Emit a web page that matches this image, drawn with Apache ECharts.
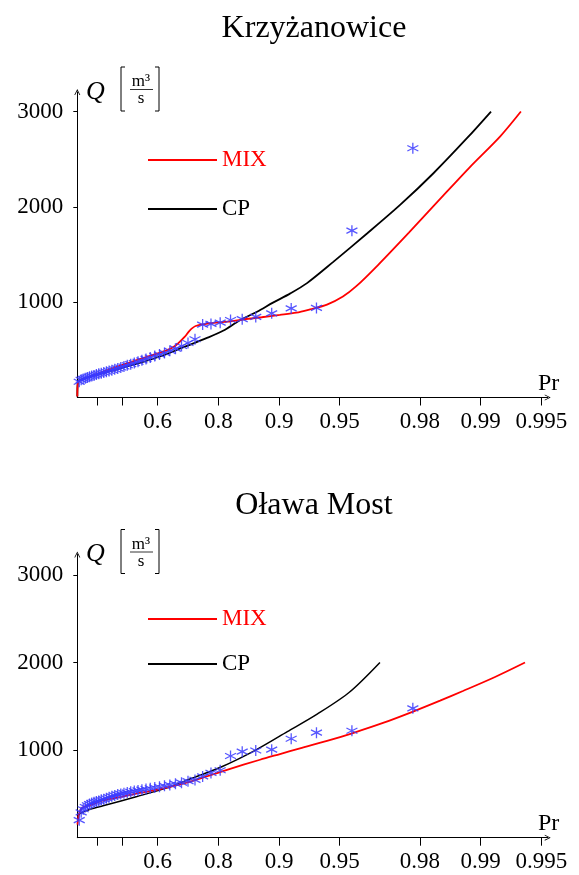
<!DOCTYPE html>
<html><head><meta charset="utf-8">
<script src="https://cdn.jsdelivr.net/npm/echarts@6/dist/echarts.min.js"></script>
<style>html,body{margin:0;padding:0;background:#fff;}#c{width:579px;height:875px;}</style>
</head><body><div id="c"></div>
<script>
// ---------- data ----------
const titles = ['Krzyżanowice', 'Oława Most'];
const seriesNames = ['MIX', 'CP'];
// plotting positions of the observed annual maxima
const obsP = [0.0217,0.0435,0.0652,0.0870,0.1087,0.1304,0.1522,0.1739,0.1957,0.2174,
  0.2391,0.2609,0.2826,0.3043,0.3261,0.3478,0.3696,0.3913,0.4130,0.4348,
  0.4565,0.4783,0.5000,0.5217,0.5435,0.5652,0.5870,0.6087,0.6304,0.6522,
  0.6739,0.6957,0.7174,0.7391,0.7609,0.7826,0.8043,0.8261,0.8478,0.8696,
  0.8913,0.9130,0.9348,0.9565,0.9783];
const topObsQ = [165,185,195,203,210,218,225,232,240,248,
  255,262,270,278,287,296,305,315,325,338,
  350,362,375,390,405,420,435,450,468,490,
  512,540,572,611,765,772,785,813,822,845,
  883,935,940,1750,2615];
const botObsQ = [200,290,325,350,370,385,395,405,412,420,
  432,440,450,462,472,482,492,500,508,515,
  525,532,540,548,556,565,573,582,592,603,
  615,628,645,660,700,740,770,933,982,995,
  1005,1130,1199,1221,1477];
// fitted curves: probabilities and discharges
const topMixP = [0.0003,0.003,0.010,0.090,0.257,0.492,0.611,0.653,0.677,0.707,0.722,0.741,0.780,0.821,0.851,0.878,0.901,0.918,0.9298,0.9422,0.9518,0.9585,0.9677,0.9773,0.9839,0.9886,0.9920,0.99368];
const topMixQ = [10,120,166,200,271,393,470,510,551,638,700,750,779,795,820,842,866,890,925,975,1060,1165,1390,1730,2070,2410,2740,3000];
const topCpP  = [0.0003,0.003,0.0192,0.2543,0.4941,0.6110,0.7008,0.7725,0.8105,0.8439,0.8715,0.8929,0.9118,0.9274,0.9460,0.9634,0.9749,0.9828,0.9883,0.99111];
const topCpQ  = [10,120,180,255,355,430,525,625,700,810,900,995,1090,1200,1420,1720,2020,2350,2720,3000];
const botMixP = [0.002,0.0192,0.0523,0.1545,0.2543,0.4330,0.4941,0.6110,0.6530,0.7331,0.7619,0.8190,0.8758,0.9011,0.9213,0.9422,0.9570,0.9695,0.97835,0.98410,0.98775,0.99151,0.99397];
const botMixQ = [150,270,340,380,425,480,505,555,580,650,685,775,890,955,1020,1105,1195,1310,1440,1565,1675,1835,2000];
const botCpP  = [0.005,0.0226,0.1360,0.2543,0.4941,0.6530,0.7218,0.8078,0.8695,0.9091,0.9353,0.9552,0.96841];
const botCpQ  = [200,270,324,365,470,580,667,810,1000,1210,1410,1660,2000];
const yTicks = [1000, 2000, 3000];
const xTickP = [0.2, 0.4, 0.6, 0.8, 0.9, 0.95, 0.98, 0.99, 0.995];
const xLabelP = [0.6, 0.8, 0.9, 0.95, 0.98, 0.99, 0.995];

// ---------- helpers ----------
const tr = p => -Math.log(1 - p);      // exponential probability scale
const pairs = (P, Q) => P.map((p, i) => [tr(p), Q[i]]);
const FONT = '"Liberation Serif", "DejaVu Serif", serif';
const ARROW = 'path://M0,10L5,0L10,10L8.6,10L5,2.8L1.4,10Z';
const STAR = 'path://M5,0L5,10M0.67,2.5L9.33,7.5M0.67,7.5L9.33,2.5';
const labelFmt = v => {
  let best = xLabelP[0], d = 1e9;
  xLabelP.forEach(p => { const e = Math.abs(tr(p) - v); if (e < d) { d = e; best = p; } });
  return String(best);
};

const panels = [
  {top: 92, height: 305.5, ymax: 3205, obs: topObsQ, mix: pairs(topMixP, topMixQ), cp: pairs(topCpP, topCpQ), title: 8, legendTop: 148, legendGap: 25},
  {top: 554.5, height: 283.2, ymax: 3233, obs: botObsQ, mix: pairs(botMixP, botMixQ), cp: pairs(botCpP, botCpQ), title: 485, legendTop: 607, legendGap: 21}
];
const XMAX = 5.37;

const option = {
  animation: false,
  backgroundColor: '#fff',
  title: panels.map((pn, k) => ({
    text: titles[k], left: 309, top: pn.title, textAlign: 'center',
    textStyle: {fontFamily: FONT, fontSize: 32, fontWeight: 'normal', color: '#000'}
  })),
  legend: panels.map((pn, k) => ({
    orient: 'vertical', left: 148, top: pn.legendTop, padding: 0, itemWidth: 69, itemHeight: 2,
    itemGap: pn.legendGap, itemTextGap: 15, icon: 'rect', selectedMode: false,
    textStyle: {fontFamily: FONT, fontSize: 23, lineHeight: 24},
    data: [{name: 'MIX', textStyle: {color: '#ff0000'}}, {name: 'CP', textStyle: {color: '#000'}}]
  })),
  grid: panels.map(pn => ({left: 77.3, top: pn.top, width: 470.4, height: pn.height})),
  xAxis: panels.map((pn, k) => ({
    type: 'value', gridIndex: k, min: 0, max: XMAX,
    axisLine: {show: true, lineStyle: {color: '#000', width: 1}, symbol: ['none', ARROW], symbolSize: [7, 6]},
    axisTick: {show: true, length: 8, lineStyle: {color: '#000'}, customValues: xTickP.map(tr)},
    axisLabel: {show: true, customValues: xLabelP.map(tr), formatter: labelFmt, margin: 13,
      fontFamily: FONT, fontSize: 23, color: '#000'},
    splitLine: {show: false}
  })),
  yAxis: panels.map((pn, k) => ({
    type: 'value', gridIndex: k, min: 0, max: pn.ymax,
    axisLine: {show: true, lineStyle: {color: '#000', width: 1}, symbol: ['none', ARROW], symbolSize: [7, 6]},
    axisTick: {show: true, length: 4, lineStyle: {color: '#000'}, customValues: yTicks},
    axisLabel: {show: true, customValues: yTicks, formatter: v => String(v), margin: 14, fontFamily: FONT, fontSize: 23, color: '#000'},
    splitLine: {show: false}
  })),
  series: [],
  graphic: []
};

panels.forEach((pn, k) => {
  option.series.push({
    name: 'MIX', type: 'line', xAxisIndex: k, yAxisIndex: k, data: pn.mix,
    showSymbol: false, smooth: 0.3,
    lineStyle: {color: '#ff0000', width: 1.8}, itemStyle: {color: '#ff0000'}, z: 3
  });
  option.series.push({
    name: 'CP', type: 'line', xAxisIndex: k, yAxisIndex: k, data: pn.cp,
    showSymbol: false, smooth: 0.3,
    lineStyle: {color: '#000', width: k === 0 ? 1.8 : 1.5}, itemStyle: {color: '#000'}, z: 2
  });
  option.series.push({
    name: 'obs', type: 'scatter', xAxisIndex: k, yAxisIndex: k,
    data: obsP.map((p, i) => [tr(p), pn.obs[i]]),
    symbol: STAR, symbolSize: 11,
    itemStyle: {color: 'rgba(0,0,0,0)', borderColor: '#3a3aff', borderWidth: 1.3, opacity: 0.85}, z: 4
  });
  const b = pn.top - 3; // arrow tip
  const xAxisY = pn.top + pn.height;
  option.graphic.push(
    {type: 'text', left: 86, top: b - 10, style: {text: 'Q', font: 'italic 26px ' + FONT, fill: '#000'}},
    {type: 'polyline', shape: {points: [[125, b - 22], [121, b - 22], [121, b + 22], [125, b + 22]]}, style: {stroke: '#000', lineWidth: 1, fill: null}},
    {type: 'polyline', shape: {points: [[155, b - 22], [159, b - 22], [159, b + 22], [155, b + 22]]}, style: {stroke: '#000', lineWidth: 1, fill: null}},
    {type: 'text', x: 141, y: b - 7, style: {text: 'm³', font: '17px ' + FONT, fill: '#000', align: 'center', verticalAlign: 'middle'}},
    {type: 'line', shape: {x1: 130, y1: b + 0.5, x2: 153, y2: b + 0.5}, style: {stroke: '#000', lineWidth: 0.8}},
    {type: 'text', x: 141, y: b + 10, style: {text: 's', font: '17px ' + FONT, fill: '#000', align: 'center', verticalAlign: 'middle'}},
    {type: 'text', x: 538, y: xAxisY - 14, style: {text: 'Pr', font: '24px ' + FONT, fill: '#000', align: 'left', verticalAlign: 'middle'}}
  );
});

const chart = echarts.init(document.getElementById('c'), null, {renderer: 'canvas'});
chart.setOption(option);
</script>
</body></html>
